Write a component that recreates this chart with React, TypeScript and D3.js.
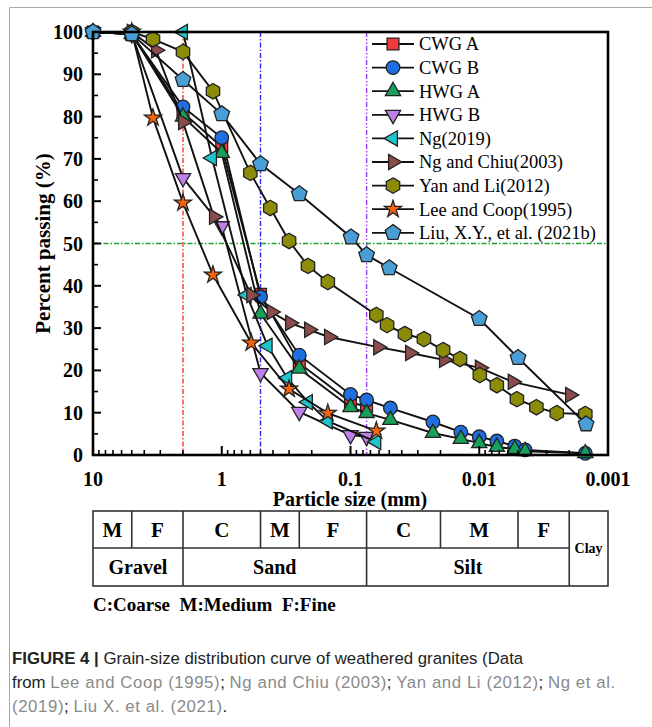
import React from "react";
import * as d3 from "d3";

// particle sizes (mm) and percent passing
const cwgASize = [10, 5, 2, 1, 0.5, 0.25, 0.1, 0.075];
const cwgAPass = [100, 99.5, 81, 72.8, 38, 21.7, 12.5, 11.4];

const cwgBSize = [10, 5, 2, 1, 0.5, 0.25, 0.1, 0.075, 0.049, 0.0229, 0.0139, 0.01, 0.0073, 0.0053, 0.0044, 0.0015];
const cwgBPass = [100, 99.5, 82.3, 75, 37.4, 23.6, 14.3, 13, 11.1, 7.8, 5.4, 4.3, 3.3, 2.1, 1.2, 0.4];

const hwgASize = [10, 5, 2, 1, 0.5, 0.25, 0.1, 0.075, 0.049, 0.0229, 0.0139, 0.01, 0.0073, 0.0053, 0.0044, 0.0015];
const hwgAPass = [100, 99.5, 80, 71.4, 33.4, 20.4, 11.3, 9.9, 8.3, 5.2, 3.8, 2.8, 1.9, 1.4, 0.9, 0.4];

const hwgBSize = [10, 5, 2, 1, 0.5, 0.25, 0.1, 0.075];
const hwgBPass = [100, 99.5, 65.5, 54.1, 19.4, 10.2, 4.7, 4.3];

const ng2019Size = [2, 1.19, 0.64, 0.44, 0.31, 0.214, 0.15, 0.063];
const ng2019Pass = [100, 70.2, 37.8, 25.8, 18.2, 12.5, 8, 3.1];

const ngChiuSize = [5, 3.24, 2, 1.15, 0.59, 0.41, 0.295, 0.21, 0.147, 0.061, 0.0345, 0.0188, 0.0099, 0.0055, 0.00197];
const ngChiuPass = [100, 95.7, 78.7, 56.3, 37.8, 33.8, 31.2, 29.6, 27.9, 25.5, 24.1, 22.5, 20.6, 17.3, 14.2];

const yanLiSize = [5, 3.42, 2, 1.17, 0.6, 0.42, 0.3, 0.214, 0.15, 0.063, 0.052, 0.0378, 0.0269, 0.0191, 0.0141, 0.0099, 0.0073, 0.0051, 0.0036, 0.0025, 0.0015];
const yanLiPass = [100, 98.3, 95.3, 86, 66.7, 58.4, 50.6, 44.7, 40.9, 33.1, 30.7, 28.6, 27.4, 24.8, 22.7, 18.9, 16.5, 13.2, 11.3, 9.9, 9.7];

const leeSize = [5, 3.42, 2, 1.17, 0.59, 0.3, 0.15, 0.063];
const leePass = [100, 79.7, 59.6, 42.6, 26.5, 15.6, 9.9, 5.7];

const liuSize = [10, 5, 2, 1, 0.5, 0.25, 0.099, 0.075, 0.05, 0.01, 0.005, 0.00148];
const liuPass = [100, 99.5, 88.7, 80.6, 68.8, 61.7, 51.5, 47.3, 44.2, 32.2, 23, 7.3];

const seriesNames = [
  "CWG A",
  "CWG B",
  "HWG A",
  "HWG B",
  "Ng(2019)",
  "Ng and Chiu(2003)",
  "Yan and Li(2012)",
  "Lee and Coop(1995)",
  "Liu, X.Y., et al. (2021b)",
];
const seriesSizes = [cwgASize, cwgBSize, hwgASize, hwgBSize, ng2019Size, ngChiuSize, yanLiSize, leeSize, liuSize];
const seriesPass = [cwgAPass, cwgBPass, hwgAPass, hwgBPass, ng2019Pass, ngChiuPass, yanLiPass, leePass, liuPass];
const seriesColors = ["#f23b3b", "#1f6fe0", "#17a05a", "#c080e8", "#1ec6cc", "#8a4c4c", "#8c8c06", "#f5650f", "#4a9ed6"];
const seriesShapes = ["square", "circle", "triUp", "triDown", "triLeft", "triRight", "hexagon", "star", "pentagon"];

const xTickValues = [10, 1, 0.1, 0.01, 0.001];
const xTickLabels = ["10", "1", "0.1", "0.01", "0.001"];
const yTickValues = [0, 10, 20, 30, 40, 50, 60, 70, 80, 90, 100];

// boundary sizes: gravel/sand at 2 mm, sand/silt at 0.075 mm (plus 0.5 mm line)
const refLines = [
  { size: 2, color: "#f03a3a", dash: "5,2,1.5,2" },
  { size: 0.5, color: "#2a2af0", dash: "5,2,1.5,2" },
  { size: 0.075, color: "#9a3cf5", dash: "5,2,1.5,2,1.5,2" },
];

// classification table below the axis
const subBounds = [10, 5, 2, 0.5, 0.25, 0.075, 0.02, 0.005, 0.002];
const subLabels = ["M", "F", "C", "M", "F", "C", "M", "F"];
const groupBounds = [10, 2, 0.075, 0.002];
const groupLabels = ["Gravel", "Sand", "Silt"];

const serif = "'Liberation Serif', 'Times New Roman', serif";
const sans = "'Liberation Sans', Arial, sans-serif";

function markerPath(shape: string): string {
  const poly = (n: number, r: number, rot: number) =>
    d3.range(n).map((i) => {
      const a = rot + (i * 2 * Math.PI) / n;
      return [r * Math.cos(a), r * Math.sin(a)];
    });
  const toPath = (pts: number[][]) => "M" + pts.map((p) => p.join(",")).join("L") + "Z";
  switch (shape) {
    case "square":
      return d3.symbol(d3.symbolSquare, 140)()!;
    case "circle":
      return d3.symbol(d3.symbolCircle, 145)()!;
    case "triUp":
      return toPath(poly(3, 8.8, -Math.PI / 2));
    case "triDown":
      return toPath(poly(3, 8.8, Math.PI / 2));
    case "triLeft":
      return toPath(poly(3, 8.8, Math.PI));
    case "triRight":
      return toPath(poly(3, 8.8, 0));
    case "hexagon":
      return toPath(poly(6, 7.7, -Math.PI / 2));
    case "star":
      return d3.symbol(d3.symbolStar, 90)()!;
    default:
      return toPath(poly(5, 8.2, -Math.PI / 2));
  }
}

export default function App() {
  const left = 93,
    right = 608,
    top = 32,
    bottom = 455;

  const x = d3.scaleLog().domain([10, 0.001]).range([left, right]);
  const y = d3.scaleLinear().domain([0, 100]).range([bottom, top]);

  const line = d3
    .line<[number, number]>()
    .x((d) => x(d[0]))
    .y((d) => y(d[1]));

  const minorX: number[] = [];
  [1, 0.1, 0.01, 0.001].forEach((dec) => {
    for (let k = 2; k <= 9; k++) minorX.push(dec * k);
  });
  const minorY = d3.range(5, 100, 10);

  const tableTop = 511,
    tableMid = 548,
    tableBottom = 586;

  const legendX = 372,
    legendY = 44,
    legendStep = 23.6;

  const grey = "#8a8a8a";

  return (
    <svg
      width={652}
      height={727}
      style={{ position: "absolute", left: 0, top: 0, background: "#fff" }}
    >
      {/* page frame */}
      <path d="M9.5,727V7.5H652" fill="none" stroke="#a8a8a8" strokeWidth={1} />

      {/* reference lines */}
      {refLines.map((r, i) => (
        <line
          key={i}
          x1={x(r.size)}
          x2={x(r.size)}
          y1={top}
          y2={bottom}
          stroke={r.color}
          strokeWidth={1.4}
          strokeDasharray={r.dash}
        />
      ))}
      <line
        x1={left}
        x2={right}
        y1={y(50)}
        y2={y(50)}
        stroke="#1c9e2a"
        strokeWidth={1.4}
        strokeDasharray="5,2,1.5,2"
      />

      {/* series lines then markers */}
      {seriesNames.map((name, i) => {
        const pts = seriesSizes[i].map((s, j) => [s, seriesPass[i][j]] as [number, number]);
        const mp = markerPath(seriesShapes[i]);
        return (
          <g key={name}>
            <path d={line(pts)!} fill="none" stroke="#111" strokeWidth={1.9} />
            {pts.map((p, j) => (
              <path
                key={j}
                d={mp}
                transform={`translate(${x(p[0])},${y(p[1])})`}
                fill={seriesColors[i]}
                stroke="#222"
                strokeWidth={1.3}
              />
            ))}
          </g>
        );
      })}

      {/* axis frame */}
      <rect
        x={left}
        y={top}
        width={right - left}
        height={bottom - top}
        fill="none"
        stroke="#000"
        strokeWidth={2.6}
      />

      {/* y ticks */}
      {yTickValues.map((v) => (
        <g key={v}>
          <line x1={left} x2={left + 8} y1={y(v)} y2={y(v)} stroke="#000" strokeWidth={2} />
          <text
            x={83}
            y={y(v)}
            dy="0.35em"
            textAnchor="end"
            fontFamily={serif}
            fontWeight="bold"
            fontSize={20}
          >
            {v}
          </text>
        </g>
      ))}
      {minorY.map((v) => (
        <line key={v} x1={left} x2={left + 5} y1={y(v)} y2={y(v)} stroke="#000" strokeWidth={1.6} />
      ))}

      {/* x ticks */}
      {xTickValues.map((v, i) => (
        <g key={v}>
          <line x1={x(v)} x2={x(v)} y1={bottom} y2={bottom - 9} stroke="#000" strokeWidth={2} />
          <text
            x={x(v)}
            y={486}
            textAnchor="middle"
            fontFamily={serif}
            fontWeight="bold"
            fontSize={20}
          >
            {xTickLabels[i]}
          </text>
        </g>
      ))}
      {minorX
        .filter((v) => v < 10 && v > 0.001)
        .map((v) => (
          <line key={v} x1={x(v)} x2={x(v)} y1={bottom} y2={bottom - 5} stroke="#000" strokeWidth={1.6} />
        ))}

      {/* axis titles */}
      <text
        x={350}
        y={506}
        textAnchor="middle"
        fontFamily={serif}
        fontWeight="bold"
        fontSize={20}
      >
        Particle size (mm)
      </text>
      <text
        transform={`translate(50,${(top + bottom) / 2}) rotate(-90)`}
        textAnchor="middle"
        fontFamily={serif}
        fontWeight="bold"
        fontSize={21}
      >
        Percent passing (%)
      </text>

      {/* legend */}
      {seriesNames.map((name, i) => {
        const ly = legendY + i * legendStep;
        return (
          <g key={name}>
            <line x1={legendX} x2={legendX + 42} y1={ly} y2={ly} stroke="#111" strokeWidth={1.8} />
            <path
              d={markerPath(seriesShapes[i])}
              transform={`translate(${legendX + 21},${ly})`}
              fill={seriesColors[i]}
              stroke="#222"
              strokeWidth={1.3}
            />
            <text x={legendX + 47} y={ly} dy="0.35em" fontFamily={serif} fontSize={18.5}>
              {name}
            </text>
          </g>
        );
      })}

      {/* classification table */}
      <g stroke="#333" strokeWidth={1.6} fill="none">
        <rect x={left} y={tableTop} width={right - left} height={tableBottom - tableTop} />
        <line x1={left} x2={x(0.002)} y1={tableMid} y2={tableMid} />
        {subBounds.slice(1).map((b) => (
          <line key={b} x1={x(b)} x2={x(b)} y1={tableTop} y2={tableMid} />
        ))}
        {groupBounds.slice(1).map((b) => (
          <line key={b} x1={x(b)} x2={x(b)} y1={tableMid} y2={tableBottom} />
        ))}
      </g>
      {subLabels.map((s, i) => (
        <text
          key={i}
          x={(x(subBounds[i]) + x(subBounds[i + 1])) / 2}
          y={(tableTop + tableMid) / 2}
          dy="0.35em"
          textAnchor="middle"
          fontFamily={serif}
          fontWeight="bold"
          fontSize={21}
        >
          {s}
        </text>
      ))}
      {groupLabels.map((s, i) => (
        <text
          key={s}
          x={(x(groupBounds[i]) + x(groupBounds[i + 1])) / 2}
          y={(tableMid + tableBottom) / 2}
          dy="0.35em"
          textAnchor="middle"
          fontFamily={serif}
          fontWeight="bold"
          fontSize={20}
        >
          {s}
        </text>
      ))}
      <text
        x={(x(0.002) + right) / 2}
        y={(tableTop + tableBottom) / 2}
        dy="0.35em"
        textAnchor="middle"
        fontFamily={serif}
        fontWeight="bold"
        fontSize={14}
      >
        Clay
      </text>
      <text x={left} y={611} fontFamily={serif} fontWeight="bold" fontSize={19}>
        C:Coarse{"\u00a0\u00a0"}M:Medium{"\u00a0\u00a0"}F:Fine
      </text>

      {/* caption */}
      <g fontFamily={sans} fontSize={16.8} fill="#222">
        <text x={12} y={664}>
          <tspan fontWeight="bold">FIGURE 4 |</tspan> Grain-size distribution curve of weathered granites (Data
        </text>
        <text x={12} y={688}>
          from{" "}
          <tspan fill={grey} letterSpacing={0.6}>Lee and Coop (1995)</tspan>;{" "}
          <tspan fill={grey} letterSpacing={0.6}>Ng and Chiu (2003)</tspan>;{" "}
          <tspan fill={grey} letterSpacing={0.6}>Yan and Li (2012)</tspan>;{" "}
          <tspan fill={grey} letterSpacing={0.6}>Ng et al.</tspan>
        </text>
        <text x={12} y={712}>
          <tspan fill={grey} letterSpacing={0.6}>(2019)</tspan>;{" "}
          <tspan fill={grey} letterSpacing={0.6}>Liu X. et al. (2021)</tspan>.
        </text>
      </g>
    </svg>
  );
}
